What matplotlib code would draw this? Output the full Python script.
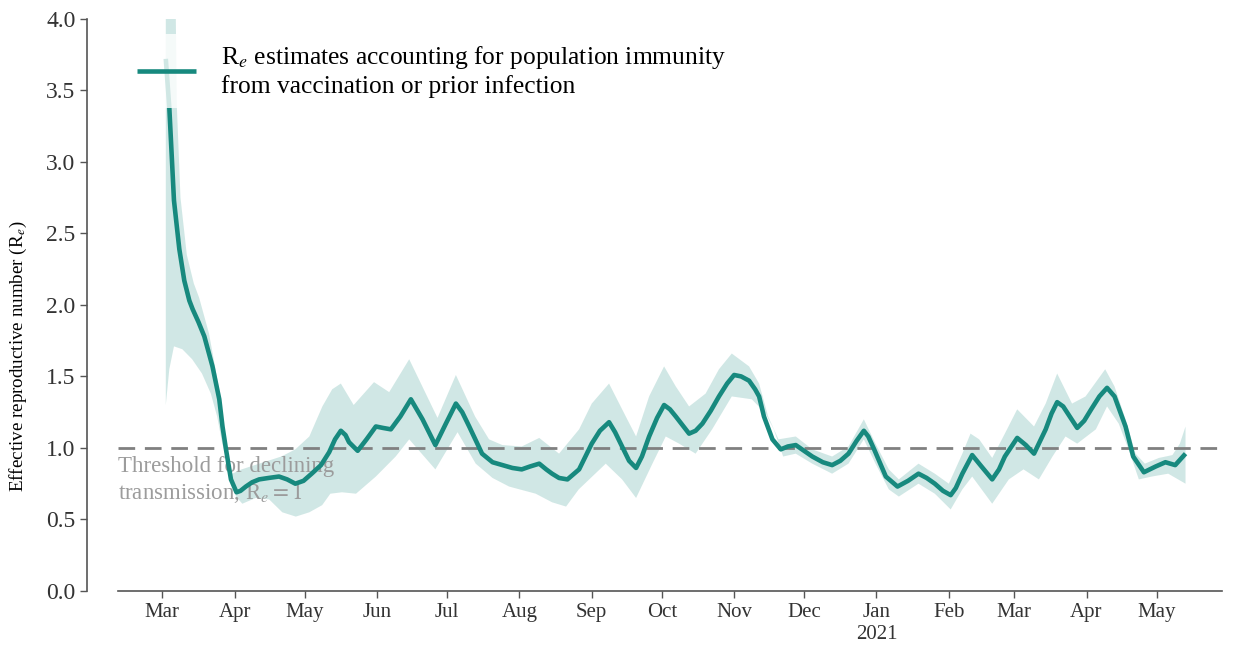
import numpy as np
import matplotlib
matplotlib.use("Agg")
import matplotlib.pyplot as plt

plt.rcParams['font.family'] = ['Liberation Serif', 'DejaVu Serif']
plt.rcParams['mathtext.fontset'] = 'stix'

# day offsets from 1 Mar 2020 and central R_e estimate
line_day = [1.5, 3, 5, 7.3, 9.4, 11.6, 13, 15.5, 18, 21.5, 24.4, 25.8, 27.3, 29.4,
            31.8, 33.5, 35.8, 38.5, 41.5, 45.5, 50, 53.5, 57, 60.5, 64, 68, 71.5,
            74, 76.5, 78.5, 80, 83.7, 87.5, 91.5, 94.5, 97.9, 102, 106.5, 111.5,
            117, 121.5, 125.8, 128.5, 131.5, 137, 141.5, 145.7, 150, 154, 157.5,
            161.5, 164.5, 167, 170, 173.6, 178.6, 184, 187.5, 191.4, 194, 197,
            200, 203, 205.5, 208.6, 212, 215, 217.5, 220, 225.7, 228.5, 231.4,
            235, 238.5, 242, 245, 248, 251.4, 254, 255.7, 257.8, 261.4, 265, 268,
            271.4, 275, 278.5, 283, 287, 290.5, 294, 297.5, 300.6, 302.5, 305,
            310, 315, 319.5, 324, 327.5, 331, 334.5, 337.8, 340, 342.8, 347, 351,
            355.6, 358.5, 361, 366.3, 370, 373.5, 378.5, 381, 383.4, 386, 388,
            392, 395, 398, 401.5, 404.8, 408, 412.7, 416, 420.6, 425.6, 429.8,
            434, 438.4]
line_re = [3.72, 3.38, 2.73, 2.39, 2.17, 2.03, 1.97, 1.88, 1.78, 1.57, 1.34, 1.15,
           0.99, 0.78, 0.69, 0.70, 0.73, 0.76, 0.78, 0.79, 0.80, 0.78, 0.75, 0.77,
           0.82, 0.88, 0.97, 1.06, 1.12, 1.09, 1.04, 0.98, 1.06, 1.15, 1.14, 1.13,
           1.22, 1.34, 1.20, 1.02, 1.17, 1.31, 1.25, 1.15, 0.96, 0.90, 0.88, 0.86,
           0.85, 0.87, 0.89, 0.85, 0.82, 0.79, 0.78, 0.85, 1.03, 1.12, 1.18, 1.11,
           1.01, 0.91, 0.86, 0.94, 1.08, 1.21, 1.30, 1.27, 1.22, 1.10, 1.12, 1.17,
           1.26, 1.36, 1.45, 1.51, 1.50, 1.47, 1.41, 1.36, 1.22, 1.06, 0.99, 1.01,
           1.02, 0.98, 0.94, 0.90, 0.88, 0.91, 0.96, 1.05, 1.12, 1.08, 0.99, 0.80,
           0.73, 0.77, 0.82, 0.79, 0.75, 0.70, 0.67, 0.72, 0.82, 0.95, 0.87, 0.78,
           0.85, 0.94, 1.07, 1.02, 0.96, 1.13, 1.24, 1.32, 1.29, 1.24, 1.14, 1.19,
           1.27, 1.36, 1.42, 1.36, 1.15, 0.94, 0.83, 0.87, 0.90, 0.88, 0.96]

# upper edge of the uncertainty band
hi_day = [1.5, 5.6, 6.2, 7.8, 10.5, 13.5, 15.8, 20, 22.6, 25, 26.4, 28, 30, 34,
          41.5, 51, 57, 63, 68.6, 72.8, 76.5, 82, 90.7, 97.2, 105.8, 117.9, 125.8,
          134, 140, 145.7, 154, 161.5, 170, 178.6, 184, 191.4, 198.6, 203, 208.6,
          215, 220, 225.7, 232.8, 238.5, 244, 251.4, 255.7, 259.6, 264, 271.4,
          278.5, 287, 294, 300.6, 305.6, 311.3, 315.6, 324, 331, 337, 342.8,
          346.3, 350, 355.6, 361, 366.3, 373.5, 378.5, 383.4, 389.8, 395.6, 404,
          408, 412.7, 417, 421, 427, 432.8, 436, 438.4]
hi_re = [4.3, 4.3, 3.4, 2.75, 2.35, 2.15, 2.05, 1.80, 1.57, 1.34, 1.13, 0.94, 0.82,
         0.85, 0.89, 0.94, 0.99, 1.08, 1.29, 1.41, 1.45, 1.30, 1.46, 1.39, 1.62,
         1.21, 1.51, 1.22, 1.06, 1.02, 1.01, 1.07, 0.96, 1.13, 1.31, 1.45, 1.22,
         1.08, 1.36, 1.57, 1.43, 1.29, 1.38, 1.55, 1.66, 1.57, 1.45, 1.22, 1.06,
         1.08, 0.99, 0.94, 1.01, 1.20, 1.03, 0.85, 0.78, 0.89, 0.82, 0.75, 0.96,
         1.10, 1.06, 0.93, 1.10, 1.27, 1.15, 1.31, 1.52, 1.31, 1.36, 1.55, 1.43,
         1.20, 0.96, 0.89, 0.93, 0.95, 1.03, 1.15]

# lower edge of the uncertainty band
lo_day = [1.5, 3, 5, 8.6, 12.8, 17, 20.8, 23.5, 25.7, 28.7, 31.6, 34.3, 40, 45.8,
          51.4, 57.2, 63, 68.5, 72, 77, 83, 91.5, 100, 105.8, 117, 126.5, 134.3,
          141.5, 148.6, 160, 167, 173, 178.4, 190, 197, 203, 210, 215.7, 221.4,
          228.5, 235.6, 244, 252.6, 258.5, 262, 266, 271.4, 278.5, 287, 294,
          300.6, 305.6, 311.3, 315.6, 324, 331, 337.8, 342.8, 347, 355.6, 362.7,
          369, 375.6, 381.4, 387, 392, 400, 404.8, 409.8, 414, 418.4, 424, 431,
          438.4]
lo_re = [1.30, 1.55, 1.71, 1.69, 1.62, 1.52, 1.38, 1.22, 1.03, 0.85, 0.66, 0.61,
         0.65, 0.64, 0.55, 0.52, 0.55, 0.60, 0.68, 0.69, 0.68, 0.80, 0.94, 1.06,
         0.85, 1.11, 0.89, 0.79, 0.73, 0.68, 0.62, 0.59, 0.71, 0.89, 0.78, 0.65,
         0.89, 1.08, 1.03, 0.96, 1.13, 1.36, 1.34, 1.24, 1.13, 0.94, 0.96, 0.89,
         0.82, 0.89, 1.06, 0.89, 0.71, 0.66, 0.75, 0.68, 0.57, 0.71, 0.80, 0.61,
         0.78, 0.85, 0.78, 0.94, 1.08, 1.03, 1.13, 1.29, 1.17, 0.99, 0.78, 0.80,
         0.82, 0.75]

month_ticks = ['2020-03-01', '2020-04-01', '2020-05-01', '2020-06-01', '2020-07-01',
               '2020-08-01', '2020-09-01', '2020-10-01', '2020-11-01', '2020-12-01',
               '2021-01-01', '2021-02-01', '2021-03-01', '2021-04-01', '2021-05-01']
month_labels = ['Mar', 'Apr', 'May', 'Jun', 'Jul', 'Aug', 'Sep', 'Oct', 'Nov', 'Dec',
                'Jan\n2021', 'Feb', 'Mar', 'Apr', 'May']

START = np.datetime64('2020-03-01T00')


def to_dates(days):
    hours = np.round(np.asarray(days) * 24).astype(int)
    return START + hours.astype('timedelta64[h]')


TEAL = '#17897e'

fig = plt.figure(figsize=(12.39, 6.48), dpi=100)
ax = fig.add_axes([0.0952, 0.088, 0.891, 0.883])

band_x = np.concatenate([to_dates(hi_day), to_dates(lo_day)[::-1]])
band_y = np.concatenate([hi_re, lo_re[::-1]])
ax.fill(band_x, band_y, color=TEAL, alpha=0.2, lw=0, zorder=1)

ax.axhline(1.0, color='#808080', lw=2, dashes=(6, 3.5), zorder=2)

ax.text(np.datetime64('2020-02-11'), 0.945,
        'Threshold for declining\ntransmission, R$_e = 1$',
        color='#9c9c9c', fontsize=16.5, va='top', ha='left',
        linespacing=1.25, zorder=2)

ax.plot(to_dates(line_day), line_re, color=TEAL, lw=3.3, solid_capstyle='butt',
        label='R$_e$ estimates accounting for population immunity\n'
              'from vaccination or prior infection', zorder=3)

ax.set_ylim(0, 4.0)
ax.set_yticks(np.arange(0, 4.01, 0.5))
ax.set_yticklabels([f'{v:.1f}' for v in np.arange(0, 4.01, 0.5)])
ax.set_xlim(np.datetime64('2020-02-11'), np.datetime64('2021-05-29'))
ax.set_xticks(np.array(month_ticks, dtype='datetime64[D]'))
ax.set_xticklabels(month_labels)

ax.set_ylabel('Effective reproductive number (R$_e$)', fontsize=13.7)
ax.yaxis.set_label_coords(-0.0805, 0.41)
ax.tick_params(color='#555555', length=5, width=1, labelcolor='#333333')
ax.tick_params(axis='x', labelsize=15)
ax.tick_params(axis='y', labelsize=17)

for side in ['top', 'right']:
    ax.spines[side].set_visible(False)
ax.spines['left'].set_position(('outward', 22))
for side in ['left', 'bottom']:
    ax.spines[side].set_color('#555555')
    ax.spines[side].set_linewidth(1.2)

leg = ax.legend(loc='upper left', bbox_to_anchor=(0.0084, 0.9733),
                fontsize=18.4, handlelength=2.3, handletextpad=0.95,
                framealpha=0.8, edgecolor='none', fancybox=False,
                borderaxespad=0, labelspacing=0.3)

fig.savefig('out.png', dpi=100)
